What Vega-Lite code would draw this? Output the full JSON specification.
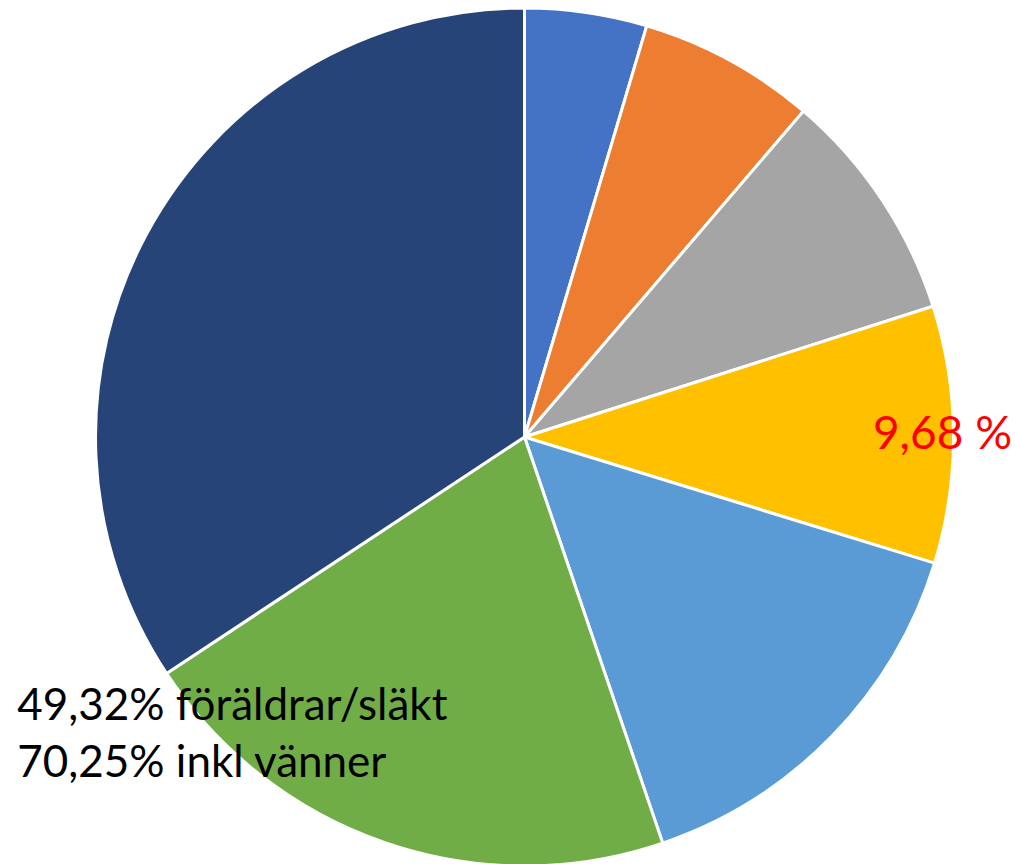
{
  "$schema": "https://vega.github.io/schema/vega-lite/v6.json",
  "width": 981,
  "height": 854,
  "autosize": {"type": "none"},
  "padding": {"left": 34, "top": 10, "right": 0, "bottom": 0},
  "background": "white",
  "view": {"stroke": null},
  "data": {
    "values": [
      {"idx": 1, "category": "Kategori 1", "value": 4.6, "red": "", "note": ""},
      {"idx": 2, "category": "Kategori 2", "value": 6.67, "red": "", "note": ""},
      {"idx": 3, "category": "Kategori 3", "value": 8.8, "red": "", "note": ""},
      {"idx": 4, "category": "Kategori 4", "value": 9.68, "red": "9,68 %", "note": ""},
      {"idx": 5, "category": "Kategori 5", "value": 15.03, "red": "", "note": ""},
      {"idx": 6, "category": "Kategori 6", "value": 20.93, "red": "", "note": "49,32% föräldrar/släkt\n70,25% inkl vänner"},
      {"idx": 7, "category": "Kategori 7", "value": 34.29, "red": "", "note": ""}
    ]
  },
  "encoding": {
    "theta": {"field": "value", "type": "quantitative", "stack": true},
    "order": {"field": "idx", "type": "quantitative"}
  },
  "layer": [
    {
      "mark": {"type": "arc", "outerRadius": 429, "stroke": "white", "strokeWidth": 3},
      "encoding": {
        "color": {
          "field": "category",
          "type": "nominal",
          "scale": {
            "domain": ["Kategori 1", "Kategori 2", "Kategori 3", "Kategori 4", "Kategori 5", "Kategori 6", "Kategori 7"],
            "range": ["#4472C4", "#ED7D31", "#A5A5A5", "#FFC000", "#5B9BD5", "#70AD47", "#264478"]
          },
          "legend": null
        }
      }
    },
    {
      "mark": {"type": "text", "radius": 418, "font": "Lato", "fontSize": 46, "color": "#FF0000", "align": "center", "baseline": "middle"},
      "encoding": {"text": {"field": "red"}}
    },
    {
      "mark": {"type": "text", "radius": 285, "dx": -415, "font": "Lato", "fontSize": 44, "color": "black", "align": "left", "baseline": "middle", "lineBreak": "\n", "lineHeight": 57},
      "encoding": {"text": {"field": "note"}}
    }
  ]
}
